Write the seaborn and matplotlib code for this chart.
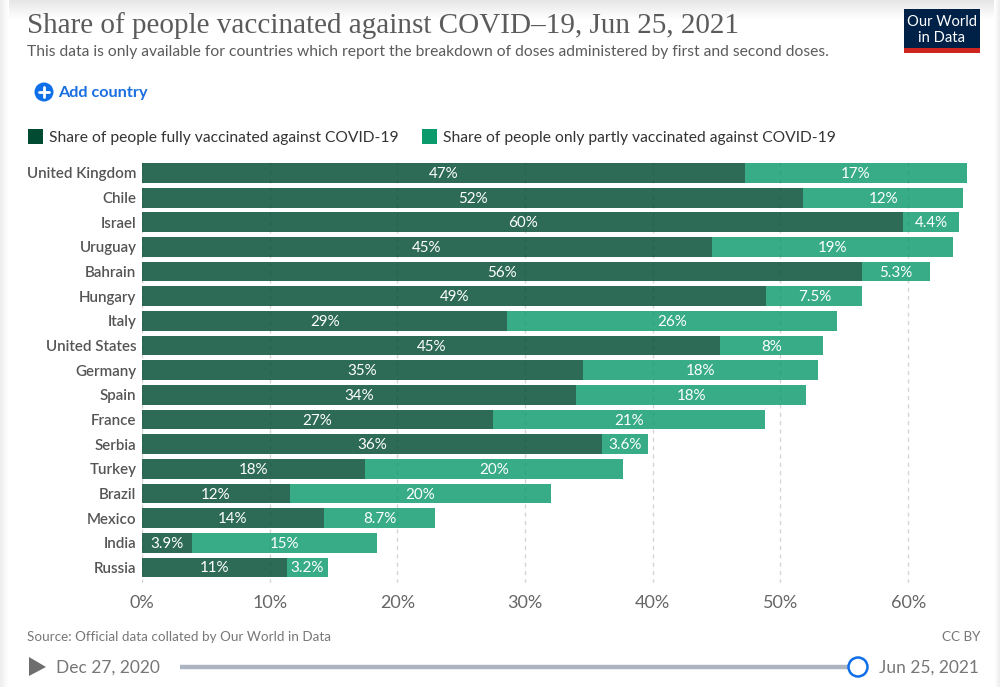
import numpy as np
import pandas as pd
import matplotlib
matplotlib.use('Agg')
import matplotlib.pyplot as plt
from matplotlib.patches import Rectangle, Circle, Polygon
import seaborn as sns

countries = ['United Kingdom', 'Chile', 'Israel', 'Uruguay', 'Bahrain', 'Hungary', 'Italy',
             'United States', 'Germany', 'Spain', 'France', 'Serbia', 'Turkey', 'Brazil',
             'Mexico', 'India', 'Russia']
fully = [47.2, 51.8, 59.6, 44.6, 56.4, 48.9, 28.6, 45.3, 34.5, 34.0, 27.5, 36.0, 17.5, 11.6, 14.25, 3.9, 11.35]
partly = [17.4, 12.5, 4.4, 18.9, 5.3, 7.5, 25.8, 8.0, 18.4, 18.0, 21.3, 3.6, 20.2, 20.4, 8.7, 14.5, 3.2]
fully_labels = ['47%', '52%', '60%', '45%', '56%', '49%', '29%', '45%', '35%', '34%', '27%', '36%', '18%',
                '12%', '14%', '3.9%', '11%']
partly_labels = ['17%', '12%', '4.4%', '19%', '5.3%', '7.5%', '26%', '8%', '18%', '18%', '21%', '3.6%', '20%',
                 '20%', '8.7%', '15%', '3.2%']
x_ticks = [0, 10, 20, 30, 40, 50, 60]

dark = '#004b32'
light = '#0b9a6c'
grey = '#555555'

sns.set_theme(style='white')
plt.rcParams['font.family'] = ['Lato', 'DejaVu Sans']

df = pd.DataFrame({'country': countries, 'fully': fully, 'partly': partly})

W, H = 1000, 687
fig = plt.figure(figsize=(10, 6.87), dpi=100, facecolor='white')

# page decoration, in pixel coordinates
bg = fig.add_axes([0, 0, 1, 1], zorder=0)
bg.set_xlim(0, W)
bg.set_ylim(H, 0)
bg.axis('off')
shade = np.linspace(0.9, 1, 20)[:, None]
bg.imshow(shade, extent=(0, W, 20, 0), cmap='gray', vmin=0, vmax=1, aspect='auto')
bg.imshow(np.linspace(0.93, 1, 9)[None, :], extent=(0, 9, H, 0), cmap='gray', vmin=0, vmax=1, aspect='auto')
bg.imshow(np.linspace(1, 0.93, 6)[None, :], extent=(994, W, H, 0), cmap='gray', vmin=0, vmax=1, aspect='auto')
bg.set_xlim(0, W)
bg.set_ylim(H, 0)

# chart
x_per_px = 1 / 12.77
ax = fig.add_axes([142 / W, 1 - 583 / H, 843 / W, (583 - 160) / H], zorder=1)
ax.patch.set_alpha(0)
sns.barplot(data=df, x='fully', y='country', color=dark, saturation=1, width=0.8, alpha=0.82,
            linewidth=0, ax=ax, zorder=2)
sns.barplot(data=df, x='partly', y='country', color=light, saturation=1, width=0.8, alpha=0.82,
            linewidth=0, left=df['fully'].values, ax=ax, zorder=2)
ax.set_xlim(0, 843 * x_per_px)
ax.set_ylim(16 + (583 - 567.5) / 24.66, -(173 - 160) / 24.66)
ax.set_xlabel('')
ax.set_ylabel('')
ax.set_xticks(x_ticks)
ax.set_xticklabels([f'{t}%' for t in x_ticks], fontsize=13, color='#666666')
ax.tick_params(axis='x', length=0, pad=9)
ax.tick_params(axis='y', length=0, pad=4)
for lab in ax.get_yticklabels():
    lab.set_fontsize(10.9)
    lab.set_fontweight('semibold')
    lab.set_color(grey)
for s in ax.spines.values():
    s.set_visible(False)
ax.xaxis.grid(True, color='#d6d6d6', linestyle=(0, (3, 3)), linewidth=1, zorder=0)
ax.set_axisbelow(True)

for i, (f, p) in enumerate(zip(fully, partly)):
    ax.text(f / 2, i + 0.04, fully_labels[i], ha='center', va='center', color='white', fontsize=10.9, zorder=3)
    ax.text(f + p / 2, i + 0.04, partly_labels[i], ha='center', va='center', color='white', fontsize=10.9, zorder=3)


def px_text(x, y, s, **kw):
    bg.text(x, y, s, va='center', **kw)


# header
px_text(27, 26, 'Share of people vaccinated against COVID\u201319, Jun 25, 2021', fontsize=21,
        family=['Liberation Serif', 'DejaVu Serif'], color='#5b5b5b')
px_text(27, 52, 'This data is only available for countries which report the breakdown of doses administered by first and second doses.',
        fontsize=11.25, color='#5b5b5b')

# logo
bg.add_patch(Rectangle((904, 9), 76, 39, color='#002147', lw=0))
bg.add_patch(Rectangle((904, 48), 76, 5, color='#ce261e', lw=0))
px_text(942, 22, 'Our World', fontsize=10.6, color='white', ha='center')
px_text(942, 38, 'in Data', fontsize=10.6, color='white', ha='center')

# add country button
bg.add_patch(Circle((44, 92), 9.5, color='#0f6fe8', lw=0))
bg.plot([39, 49], [92, 92], color='white', lw=2)
bg.plot([44, 44], [87, 97], color='white', lw=2)
px_text(58, 93, 'Add country', fontsize=11.7, fontweight='bold', color='#1a6fe0')

# legend
bg.add_patch(Rectangle((28, 129), 15, 15, color=dark, lw=0))
px_text(49, 138, 'Share of people fully vaccinated against COVID-19', fontsize=11.27, color='#333333')
bg.add_patch(Rectangle((422, 129), 15, 15, color=light, lw=0))
px_text(443, 138, 'Share of people only partly vaccinated against COVID-19', fontsize=11.27, color='#333333')

# footer
px_text(27, 637, 'Source: Official data collated by Our World in Data', fontsize=9.7, color='#777777')
px_text(980, 637, 'CC BY', fontsize=9.7, color='#777777', ha='right')

# timeline
bg.add_patch(Polygon([(29, 657), (46, 667), (29, 676)], closed=True, color='#6e6e6e', lw=0))
px_text(56, 668, 'Dec 27, 2020', fontsize=12.5, color='#777777')
bg.plot([180, 858], [667, 667], color='#adb5c2', lw=3.2, solid_capstyle='butt')
bg.add_patch(Circle((858, 667), 9.5, facecolor='white', edgecolor='#0f6fe8', lw=1.8, zorder=4))
px_text(879, 668, 'Jun 25, 2021', fontsize=12.5, color='#777777')

fig.savefig('out.png', dpi=100)
